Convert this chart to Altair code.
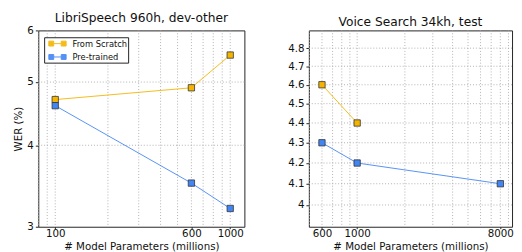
import altair as alt
import pandas as pd

SERIES = ["From Scratch", "Pre-trained"]
COLORS = ["#F4B400", "#4285F4"]

# LibriSpeech 960h, dev-other
LS_PARAMS = [100, 600, 1000]
LS_SCRATCH = [4.7, 4.9, 5.5]
LS_PRETRAINED = [4.6, 3.5, 3.2]
LS_XTICKS = [100, 600, 1000]
LS_YTICKS = [3, 4, 5, 6]
LS_XGRID = [80, 90, 100, 200, 300, 400, 500, 600, 700, 800, 900, 1000]
LS_YGRID = [4, 5]
LS_XDOMAIN = [80, 1205]
LS_YDOMAIN = [3, 6]

# Voice Search 34kh, test
VS_SCRATCH_PARAMS = [600, 1000]
VS_SCRATCH = [4.6, 4.4]
VS_PRE_PARAMS = [600, 1000, 8000]
VS_PRETRAINED = [4.3, 4.2, 4.1]
VS_XTICKS = [600, 1000, 8000]
VS_YTICKS = [4.0, 4.1, 4.2, 4.3, 4.4, 4.5, 4.6, 4.7, 4.8]
VS_XGRID = [500, 600, 700, 800, 900, 1000, 2000, 3000, 4000, 5000, 6000, 7000, 8000, 9000]
VS_YGRID = VS_YTICKS
VS_XDOMAIN = [496, 9480]
VS_YDOMAIN = [3.9, 4.9]

FONT = "DejaVu Sans"
GRID_COLOR = "#a8a8a8"
# legend glyph: square - line - square (unit = 5px, centre of the 10px symbol slot at 0)
LEGEND_SYMBOL = ("M-0.34,-0.5 h1 v1 h-1 Z M2.2,-0.5 h1 v1 h-1 Z "
                 "M0.66,0 L2.2,0")


def make_df(params_a, vals_a, params_b, vals_b):
    return pd.DataFrame({
        "params": list(params_a) + list(params_b),
        "wer": list(vals_a) + list(vals_b),
        "series": [SERIES[0]] * len(vals_a) + [SERIES[1]] * len(vals_b),
    })


def panel(df, title, xdom, ydom, xticks, yticks, xgrid, ygrid, ytitle, show_legend, w, h):
    xs = alt.Scale(type="log", domain=xdom, nice=False)
    ys = alt.Scale(type="log", domain=ydom, nice=False)
    color_scale = alt.Scale(domain=SERIES, range=COLORS)

    xaxis = alt.Axis(values=xticks, title="# Model Parameters (millions)", grid=False,
                     format="d", tickSize=2, labelPadding=0, titlePadding=3, domain=False,
                     minExtent=0)
    yaxis = alt.Axis(values=yticks, title=ytitle, grid=False, format="~g",
                     tickSize=3, labelPadding=2, titlePadding=3, domain=False,
                     minExtent=0)

    if show_legend:
        leg = alt.Legend(title=None, orient="none", legendX=6, legendY=7,
                         symbolType=LEGEND_SYMBOL,
                         symbolSize=100, symbolStrokeWidth=1, strokeColor="#222",
                         fillColor="white", padding=1, rowPadding=3.7, labelOffset=17,
                         labelFontSize=8.5, labelFont=FONT, labelColor="#111",
                         cornerRadius=0)
    else:
        leg = None

    points = alt.Chart(df).mark_point(shape="square", filled=True, size=42, stroke="#333",
                                      strokeWidth=0.8, opacity=1).encode(
        x=alt.X("params:Q", scale=xs, axis=xaxis),
        y=alt.Y("wer:Q", scale=ys, axis=yaxis),
        color=alt.Color("series:N", scale=color_scale, legend=leg),
    )
    lines = alt.Chart(df).mark_line(strokeWidth=1, opacity=0.9).encode(
        x=alt.X("params:Q", scale=xs, axis=xaxis),
        y=alt.Y("wer:Q", scale=ys, axis=yaxis),
        color=alt.Color("series:N", scale=color_scale, legend=leg),
        detail="series:N",
    )
    vgrid = alt.Chart(pd.DataFrame({"params": xgrid})).mark_rule(
        stroke=GRID_COLOR, strokeWidth=0.9, strokeDash=[1, 2]
    ).encode(x=alt.X("params:Q", scale=xs, axis=xaxis))
    hgrid = alt.Chart(pd.DataFrame({"wer": ygrid})).mark_rule(
        stroke=GRID_COLOR, strokeWidth=0.9, strokeDash=[1, 2]
    ).encode(y=alt.Y("wer:Q", scale=ys, axis=yaxis))

    return alt.layer(vgrid, hgrid, lines, points).properties(
        width=w, height=h, title=title
    )


ls_df = make_df(LS_PARAMS, LS_SCRATCH, LS_PARAMS, LS_PRETRAINED)
vs_df = make_df(VS_SCRATCH_PARAMS, VS_SCRATCH, VS_PRE_PARAMS, VS_PRETRAINED)

left = panel(ls_df, "LibriSpeech 960h, dev-other", LS_XDOMAIN, LS_YDOMAIN, LS_XTICKS,
             LS_YTICKS, LS_XGRID, LS_YGRID, "WER (%)", True, 211, 201)
right = panel(vs_df, "Voice Search 34kh, test", VS_XDOMAIN, VS_YDOMAIN, VS_XTICKS,
              VS_YTICKS, VS_XGRID, VS_YGRID, "", False, 208, 201)

chart = alt.hconcat(left, right, spacing=42).resolve_scale(
    color="independent", x="independent", y="independent"
).properties(
    padding={"left": 5, "top": 0, "right": 0, "bottom": 0}
).configure(
    font=FONT,
).configure_view(
    stroke="#222", strokeWidth=1
).configure_axis(
    labelFont=FONT, titleFont=FONT, labelFontSize=10.5, titleFontSize=10.5,
    labelColor="#111", titleColor="#111", titleFontWeight="normal", tickColor="#222"
).configure_title(
    font=FONT, fontSize=12.5, fontWeight="normal", color="#111", offset=1.5, anchor="middle"
)

chart.save("out.html", embed_options={"renderer": "svg", "actions": False})
